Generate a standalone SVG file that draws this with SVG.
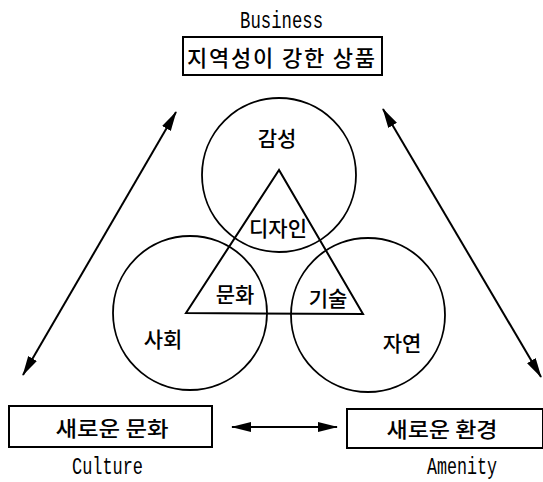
<svg xmlns="http://www.w3.org/2000/svg" width="543" height="482" viewBox="0 0 543 482">
<style>
.ko{font-family:"Noto Sans CJK KR","Noto Sans",sans-serif;font-size:21px;fill:#000;text-anchor:middle;font-weight:500}
.en{font-family:"Liberation Mono",monospace;font-size:24px;fill:#000}
.box{fill:#fff;stroke:#000;stroke-width:2}
.circ{fill:none;stroke:#000;stroke-width:1.8}
.ln{fill:none;stroke:#000;stroke-width:2}
</style>
<defs>
<marker id="ah" viewBox="0 0 20 10" refX="19" refY="5" markerWidth="20" markerHeight="10" markerUnits="userSpaceOnUse" orient="auto-start-reverse">
<path d="M0,0 L20,5 L0,10 z" fill="#000"/>
</marker>
</defs>
<rect width="543" height="482" fill="#fff"/>
<g id="connectors">
<line class="ln" x1="23" y1="375" x2="176" y2="112" marker-start="url(#ah)" marker-end="url(#ah)"/>
<line class="ln" x1="541" y1="377" x2="383" y2="109" marker-start="url(#ah)" marker-end="url(#ah)"/>
<line class="ln" x1="232" y1="427" x2="337" y2="427" marker-start="url(#ah)" marker-end="url(#ah)"/>
</g>
<g id="circle-gamseong">
<circle class="circ" cx="279" cy="175" r="77"/>
<text class="ko" x="277" y="146">감성</text>
</g>
<g id="circle-sahoe">
<circle class="circ" cx="190" cy="313" r="77"/>
<text class="ko" x="163" y="347">사회</text>
</g>
<g id="circle-jayeon">
<circle class="circ" cx="368" cy="315" r="77"/>
<text class="ko" x="402" y="351">자연</text>
</g>
<g id="triangle">
<polygon class="ln" points="279,170 186,313 363,314" stroke-linejoin="miter"/>
<text class="ko" x="278" y="236">디자인</text>
<text class="ko" x="235" y="302">문화</text>
<text class="ko" x="328" y="306">기술</text>
</g>
<g id="business">
<text class="en" x="240" y="28" textLength="83" lengthAdjust="spacingAndGlyphs">Business</text>
<rect class="box" x="183" y="37" width="199" height="38"/>
<text class="ko" x="281" y="66" textLength="188" lengthAdjust="spacing" style="font-size:22px">지역성이 강한 상품</text>
</g>
<g id="culture">
<rect class="box" x="9" y="406" width="203" height="41"/>
<text class="ko" x="112" y="436" textLength="113" lengthAdjust="spacingAndGlyphs">새로운 문화</text>
<text class="en" x="72" y="474" textLength="71" lengthAdjust="spacingAndGlyphs">Culture</text>
</g>
<g id="amenity">
<rect class="box" x="347" y="409" width="196" height="39"/>
<text class="ko" x="442" y="437" textLength="111" lengthAdjust="spacingAndGlyphs">새로운 환경</text>
<text class="en" x="427" y="474" textLength="70" lengthAdjust="spacingAndGlyphs">Amenity</text>
</g>
</svg>
